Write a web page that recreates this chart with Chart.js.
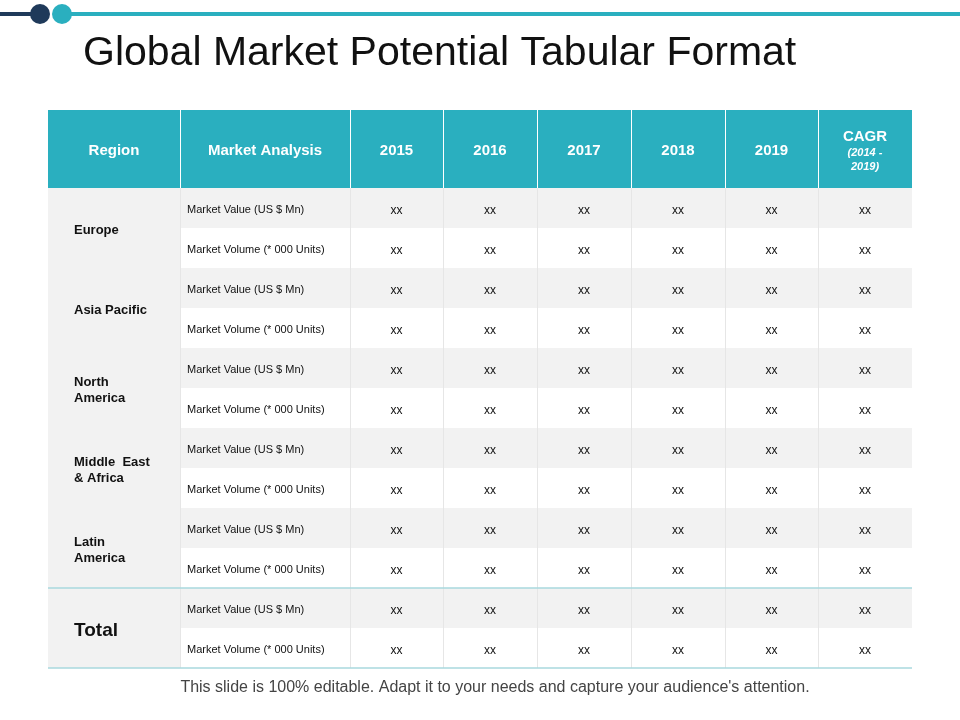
<!DOCTYPE html>
<html><head><meta charset="utf-8">
<script src="https://cdn.jsdelivr.net/npm/chart.js@4"></script>
<style>html,body{margin:0;padding:0;background:#fff}#w{width:960px;height:720px}</style>
</head><body><div id="w"><canvas id="c"></canvas></div>
<script>
const headers = ["Region","Market Analysis","2015","2016","2017","2018","2019","CAGR"];
const cagrSub = ["(2014 -","2019)"];
const regions = [["Europe"],["Asia Pacific"],["North","America"],["Middle  East","& Africa"],["Latin","America"],["Total"]];
const measures = ["Market Value (US $ Mn)","Market Volume (* 000 Units)"];
const cellValue = "xx";
const colEdges = [0,132,302,395,489,583,677,770,864];
const headerRows = 1.95;
const totalRows = headerRows + regions.length*2;

const font = "'Liberation Sans', Arial, sans-serif";
const cellPoints = [];
regions.forEach((r,ri)=>measures.forEach((m,mi)=>{for(let c=2;c<8;c++)cellPoints.push({x:(colEdges[c]+colEdges[c+1])/2,y:headerRows+ri*2+mi+0.5});}));

const tablePlugin = {
  id:'table',
  beforeDatasetsDraw(chart){
    const ctx=chart.ctx, xs=chart.scales.x, ys=chart.scales.y;
    const X=v=>xs.getPixelForValue(v), Y=v=>ys.getPixelForValue(v);
    ctx.save();
    ctx.fillStyle='#1f3a5a'; ctx.fillRect(0,12,40,4);
    ctx.fillStyle='#2aafbf'; ctx.fillRect(62,12,898,4);
    ctx.beginPath(); ctx.arc(40,14,10,0,Math.PI*2); ctx.fillStyle='#1f3a5a'; ctx.fill();
    ctx.beginPath(); ctx.arc(62,14,10,0,Math.PI*2); ctx.fillStyle='#2aafbf'; ctx.fill();
    ctx.fillStyle='#111'; ctx.font='41px '+font; ctx.textBaseline='middle'; ctx.textAlign='left';
    ctx.fillText('Global Market Potential Tabular Format',83,54);
    ctx.fillStyle='#444'; ctx.font='16px '+font; ctx.textAlign='center';
    ctx.fillText("This slide is 100% editable. Adapt it to your needs and capture your audience's attention.",495,688);
    ctx.fillStyle='#2aafbf'; ctx.fillRect(X(0),Y(0),X(864)-X(0),Y(headerRows)-Y(0));
    ctx.fillStyle='#fff'; ctx.textAlign='center';
    headers.forEach((h,i)=>{
      const cx=(X(colEdges[i])+X(colEdges[i+1]))/2, cy=Y(headerRows/2)+2;
      ctx.font='bold 15px '+font;
      if(i===7){ctx.fillText(h,cx,cy-14);ctx.font='italic bold 11px '+font;ctx.fillText(cagrSub[0],cx,cy+2);ctx.fillText(cagrSub[1],cx,cy+16);}
      else ctx.fillText(h,cx,cy);
    });
    regions.forEach((r,ri)=>{
      const y0=headerRows+ri*2;
      ctx.fillStyle='#f2f2f2'; ctx.fillRect(X(0),Y(y0),X(132)-X(0),Y(y0+2)-Y(y0));
      ctx.fillRect(X(132),Y(y0),X(864)-X(132),Y(y0+1)-Y(y0));
      ctx.fillStyle='#111'; ctx.textAlign='left';
      if(ri===5){ctx.font='bold 19px '+font;ctx.fillText(r[0],X(26),Y(y0+1)+3);}
      else{ctx.font='bold 13px '+font;const n=r.length;r.forEach((t,k)=>ctx.fillText(t,X(26),Y(y0+1)+2+(k-(n-1)/2)*16));}
      measures.forEach((m,mi)=>{ctx.font='11px '+font;ctx.fillStyle='#111';ctx.textAlign='left';ctx.fillText(m,X(139),Y(y0+mi+0.5)+2);});
    });
    ctx.strokeStyle='#e6e6e6'; ctx.lineWidth=1;
    for(let i=1;i<colEdges.length-1;i++){ctx.beginPath();ctx.moveTo(X(colEdges[i])+0.5,Y(headerRows));ctx.lineTo(X(colEdges[i])+0.5,Y(totalRows));ctx.stroke();}
    ctx.strokeStyle='#ffffff';
    for(let i=1;i<colEdges.length-1;i++){ctx.beginPath();ctx.moveTo(X(colEdges[i])+0.5,Y(0));ctx.lineTo(X(colEdges[i])+0.5,Y(headerRows));ctx.stroke();}
    ctx.strokeStyle='#a9d8de'; ctx.lineWidth=1.5;
    [headerRows+10,totalRows].forEach(v=>{ctx.beginPath();ctx.moveTo(X(0),Y(v));ctx.lineTo(X(864),Y(v));ctx.stroke();});
    ctx.restore();
  },
  afterDatasetsDraw(chart){
    const ctx=chart.ctx, meta=chart.getDatasetMeta(0);
    ctx.save(); ctx.fillStyle='#111'; ctx.font='12px '+font; ctx.textAlign='center'; ctx.textBaseline='middle';
    meta.data.forEach(p=>ctx.fillText(cellValue,p.x,p.y+3));
    ctx.restore();
  }
};

new Chart(document.getElementById('c'),{
  type:'scatter',
  data:{datasets:[{data:cellPoints,pointRadius:0,pointHoverRadius:0}]},
  options:{
    responsive:true,maintainAspectRatio:false,animation:false,
    layout:{padding:{left:48,right:48,top:110,bottom:52}},
    plugins:{legend:{display:false},tooltip:{enabled:false}},
    scales:{
      x:{type:'linear',min:0,max:864,display:false},
      y:{type:'linear',min:0,max:totalRows,reverse:true,display:false}
    }
  },
  plugins:[tablePlugin]
});
</script></body></html>
